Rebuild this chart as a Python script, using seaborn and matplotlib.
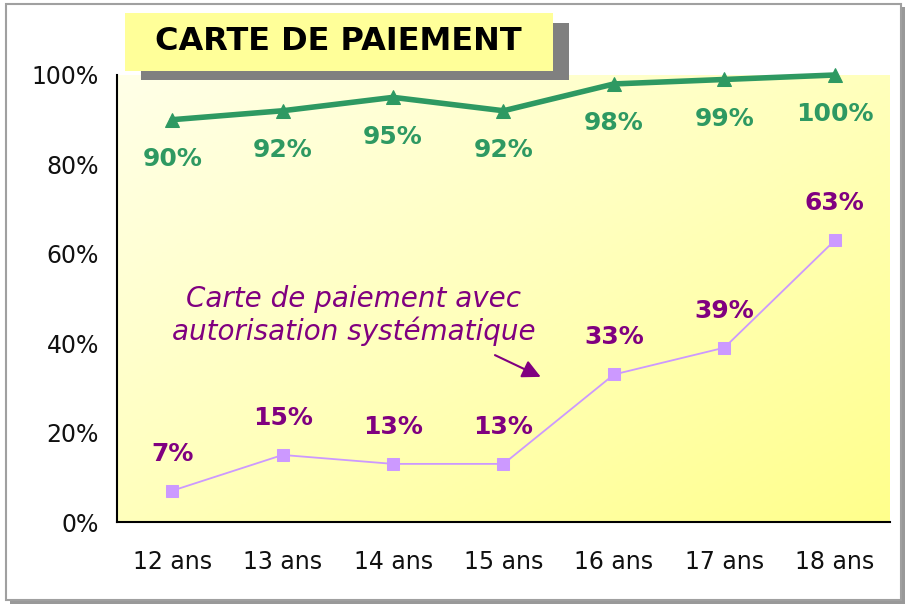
import numpy as np
import pandas as pd
import seaborn as sns
import matplotlib.pyplot as plt
from matplotlib.patches import Rectangle
from matplotlib.colors import LinearSegmentedColormap

# data
ages = ['12 ans', '13 ans', '14 ans', '15 ans', '16 ans', '17 ans', '18 ans']
carte = [90, 92, 95, 92, 98, 99, 100]
carte_autorisation = [7, 15, 13, 13, 33, 39, 63]
y_ticks = [0, 20, 40, 60, 80, 100]

green = '#2E9962'
lilac = '#CC99FF'
purple = '#800080'

sns.set_style('white')
plt.rcParams['font.family'] = ['DejaVu Sans']

df = pd.DataFrame({'x': range(len(ages)), 'carte': carte, 'auto': carte_autorisation})

fig = plt.figure(figsize=(9.06, 6.05), dpi=100)
fig.patch.set_facecolor('white')

# outer frame with shadow
fig.patches.append(Rectangle((10 / 906, 1 / 605), 895 / 906, 597 / 605, transform=fig.transFigure,
                             facecolor='#999999', edgecolor='none', zorder=0))
fig.patches.append(Rectangle((6 / 906, 5 / 605), 895 / 906, 596 / 605, transform=fig.transFigure,
                             facecolor='white', edgecolor='#A0A0A0', linewidth=1.5, zorder=0))

ax = fig.add_axes([117 / 906, (605 - 522) / 605, (890 - 117) / 906, (522 - 75) / 605])
ax.set_facecolor('none')

# diagonal white -> yellow gradient behind the plot
u, v = np.meshgrid(np.linspace(0, 1, 300), np.linspace(1, 0, 200))
grad = np.clip((u + (1 - v)) / 2, 0, 1)
cmap_bg = LinearSegmentedColormap.from_list('bg', ['#FFFFE8', '#FFFFBC', '#FFFF8C'])
ax.imshow(grad, cmap=cmap_bg, extent=[-0.5, 6.5, 0, 100], aspect='auto', zorder=0,
          vmin=0, vmax=1, origin='upper')

sns.lineplot(data=df, x='x', y='carte', ax=ax, color=green, linewidth=4, marker='^',
             markersize=10, markeredgecolor=green, clip_on=False, zorder=3)
sns.lineplot(data=df, x='x', y='auto', ax=ax, color=lilac, linewidth=1.3, marker='s',
             markersize=8, markeredgecolor=lilac, clip_on=False, zorder=3)

for i, val in enumerate(carte):
    ax.text(i, val - 8.8, f'{val}%', ha='center', va='center', color=green,
            fontsize=18, fontweight='bold')
for i, val in enumerate(carte_autorisation):
    ax.text(i, val + 8.3, f'{val}%', ha='center', va='center', color=purple,
            fontsize=18, fontweight='bold')

# annotation
ax.text(1.64, 46.3, 'Carte de paiement avec\nautorisation systématique', ha='center', va='center',
        color=purple, fontsize=20, fontstyle='italic', linespacing=1.15)
ax.annotate('', xy=(3.36, 32.2), xytext=(2.9, 37.6),
            arrowprops=dict(arrowstyle='-|>,head_length=1.1,head_width=0.55', color=purple, lw=1.5))

ax.set_xlim(-0.5, 6.5)
ax.set_ylim(0, 100)
ax.set_yticks(y_ticks)
ax.set_yticklabels([f'{t}%' for t in y_ticks], fontsize=17)
ax.set_xticks(np.arange(-0.5, 7, 1))
ax.set_xticklabels([])
ax.set_xticks(range(len(ages)), minor=True)
ax.set_xticklabels(ages, minor=True, fontsize=17)
ax.tick_params(axis='x', which='major', direction='out', length=8, width=1.5, color='black')
ax.tick_params(axis='x', which='minor', length=0, pad=20, labelcolor='#111111')
ax.tick_params(axis='y', direction='out', length=7, width=1.5, color='black', pad=6,
               labelcolor='#111111')
ax.set_xlabel('')
ax.set_ylabel('')
for side in ['top', 'right']:
    ax.spines[side].set_visible(False)
for side in ['left', 'bottom']:
    ax.spines[side].set_color('black')
    ax.spines[side].set_linewidth(1.5)
ax.set_zorder(2)

# title box with shadow
fig.patches.append(Rectangle((141 / 906, (605 - 80) / 605), 428 / 906, 57 / 605,
                             transform=fig.transFigure, facecolor='#808080', edgecolor='none', zorder=5))
fig.patches.append(Rectangle((125 / 906, (605 - 71) / 605), 428 / 906, 58 / 605,
                             transform=fig.transFigure, facecolor='#FFFF99', edgecolor='none', zorder=6))
fig.text(338 / 906, (605 - 42) / 605, 'CARTE DE PAIEMENT', ha='center', va='center',
         fontsize=23, fontweight='bold', color='black', zorder=7)

fig.savefig('out.png', dpi=100)
